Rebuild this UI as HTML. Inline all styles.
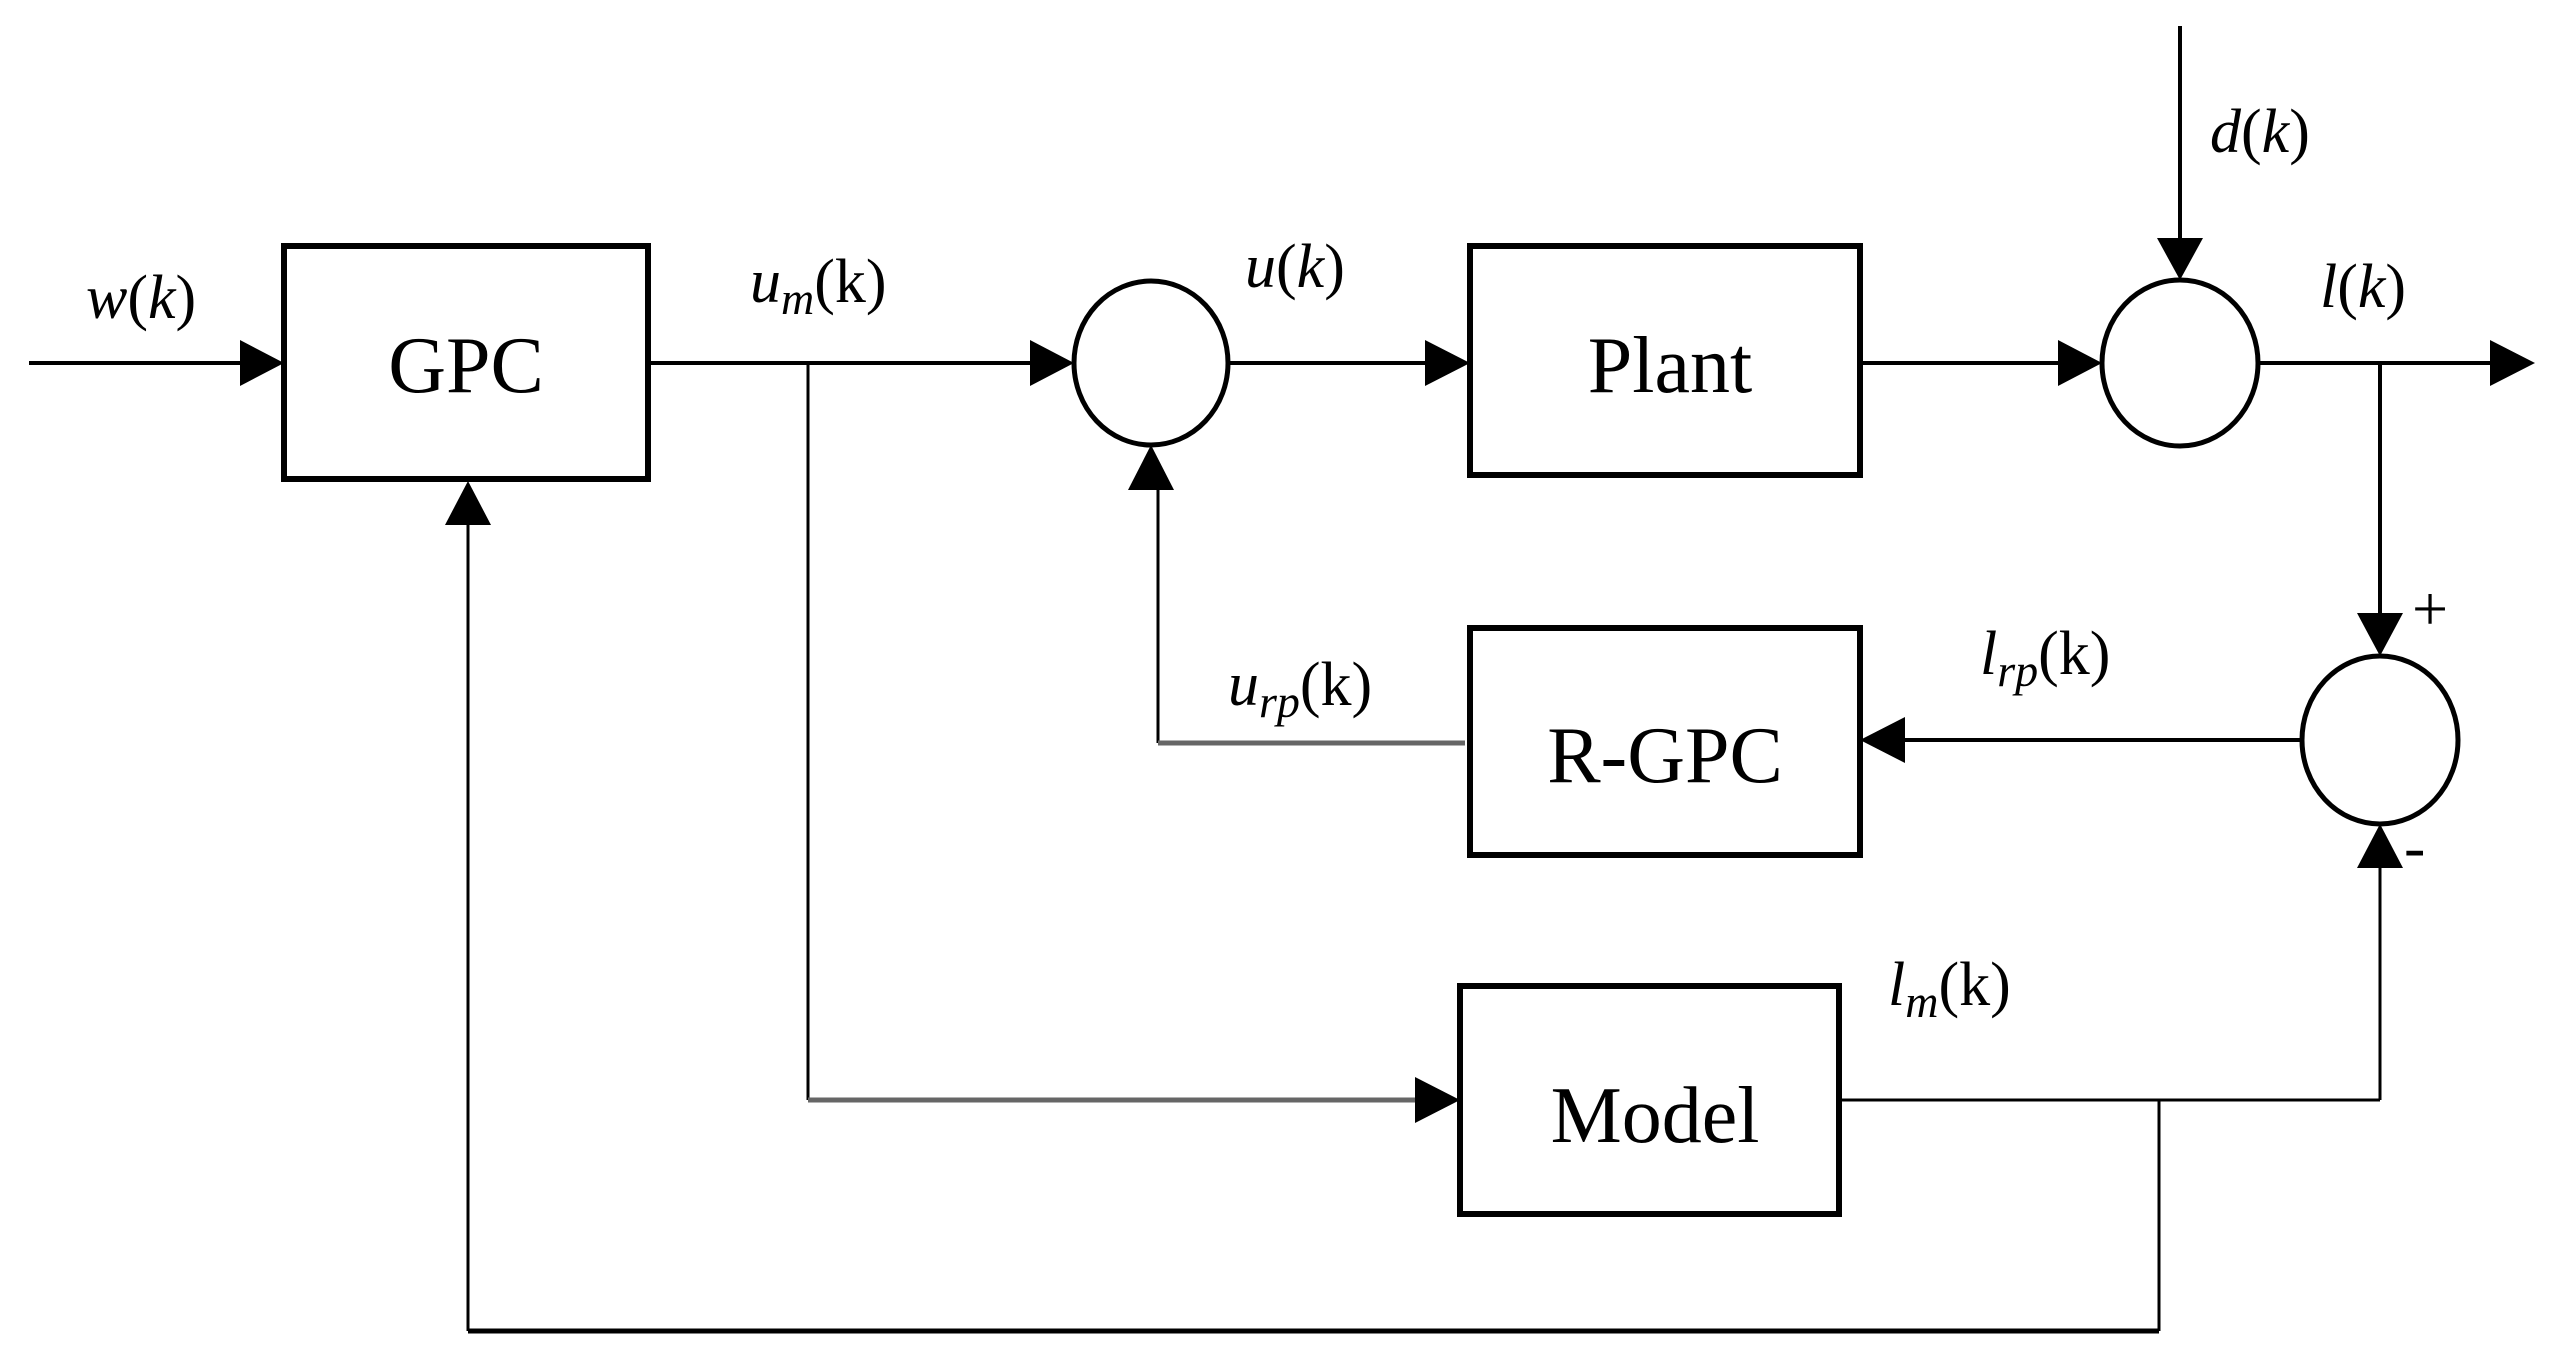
<!DOCTYPE html>
<html><head><meta charset="utf-8"><style>body{margin:0;background:#fff}svg{display:block}</style></head>
<body>
<svg width="2574" height="1369" viewBox="0 0 2574 1369" xmlns="http://www.w3.org/2000/svg" font-family="Liberation Serif, serif">
<g fill="none" stroke="#000">
<rect x="284" y="246" width="364" height="233" stroke-width="6"/>
<rect x="1470" y="246" width="390" height="229" stroke-width="6"/>
<rect x="1470" y="628" width="390" height="227" stroke-width="6"/>
<rect x="1460" y="986" width="379" height="228" stroke-width="6"/>
<ellipse cx="1151" cy="363" rx="77" ry="82" stroke-width="5"/>
<ellipse cx="2180" cy="363" rx="78" ry="83" stroke-width="5"/>
<ellipse cx="2380" cy="740" rx="78" ry="84" stroke-width="5"/>
<g stroke-width="4">
<line x1="29" y1="363" x2="240" y2="363"/>
<line x1="648" y1="363" x2="1035" y2="363"/>
<line x1="1228" y1="363" x2="1425" y2="363"/>
<line x1="1860" y1="363" x2="2065" y2="363"/>
<line x1="2258" y1="363" x2="2490" y2="363"/>
<line x1="2180" y1="26" x2="2180" y2="240"/>
<line x1="2380" y1="363" x2="2380" y2="615"/>
<line x1="2302" y1="740" x2="1905" y2="740"/>
</g>
<g stroke-width="3">
<line x1="808" y1="363" x2="808" y2="1100"/>
<line x1="808" y1="1100" x2="1420" y2="1100" stroke="#666" stroke-width="5"/>
<line x1="1839" y1="1100" x2="2380" y2="1100"/>
<line x1="2380" y1="1100" x2="2380" y2="868"/>
<line x1="2159" y1="1100" x2="2159" y2="1331"/>
<line x1="2159" y1="1331" x2="468" y2="1331" stroke-width="5"/>
<line x1="468" y1="1331" x2="468" y2="525"/>
<line x1="1158" y1="743" x2="1158" y2="490"/>
<line x1="1158" y1="743" x2="1465" y2="743" stroke="#666" stroke-width="5"/>
</g>
</g>
<g fill="#000">
<polygon points="284,363 240,340 240,386"/>
<polygon points="1074,363 1030,340 1030,386"/>
<polygon points="1470,363 1425,340 1425,386"/>
<polygon points="2102,363 2058,340 2058,386"/>
<polygon points="2535,363 2490,340 2490,386"/>
<polygon points="2180,280 2157,238 2203,238"/>
<polygon points="2380,656 2357,613 2403,613"/>
<polygon points="1860,740 1905,717 1905,763"/>
<polygon points="1460,1100 1415,1077 1415,1123"/>
<polygon points="2380,824 2357,868 2403,868"/>
<polygon points="1151,445 1128,490 1174,490"/>
<polygon points="468,481 445,525 491,525"/>
</g>
<g font-size="80" text-anchor="middle" fill="#000">
<text x="466" y="392">GPC</text>
<text x="1670" y="392">Plant</text>
<text x="1665" y="782">R-GPC</text>
<text x="1655" y="1142">Model</text>
</g>
<g font-size="62" fill="#000">
<text x="86" y="318"><tspan font-style="italic">w</tspan>(<tspan font-style="italic">k</tspan>)</text>
<text x="750" y="302"><tspan font-style="italic">u</tspan><tspan font-style="italic" font-size="46" dy="12">m</tspan><tspan dy="-12">(k)</tspan></text>
<text x="1245" y="287"><tspan font-style="italic">u</tspan>(<tspan font-style="italic">k</tspan>)</text>
<text x="2210" y="152"><tspan font-style="italic">d</tspan>(<tspan font-style="italic">k</tspan>)</text>
<text x="2320" y="307"><tspan font-style="italic">l</tspan>(<tspan font-style="italic">k</tspan>)</text>
<text x="1980" y="674"><tspan font-style="italic">l</tspan><tspan font-style="italic" font-size="46" dy="12">rp</tspan><tspan dy="-12">(k)</tspan></text>
<text x="1228" y="705"><tspan font-style="italic">u</tspan><tspan font-style="italic" font-size="46" dy="12">rp</tspan><tspan dy="-12">(k)</tspan></text>
<text x="1888" y="1005"><tspan font-style="italic">l</tspan><tspan font-style="italic" font-size="46" dy="12">m</tspan><tspan dy="-12">(k)</tspan></text>
<text x="2412" y="630" font-size="64">+</text>
<text x="2404" y="868" font-size="64">-</text>
</g>
</svg>
</body></html>
